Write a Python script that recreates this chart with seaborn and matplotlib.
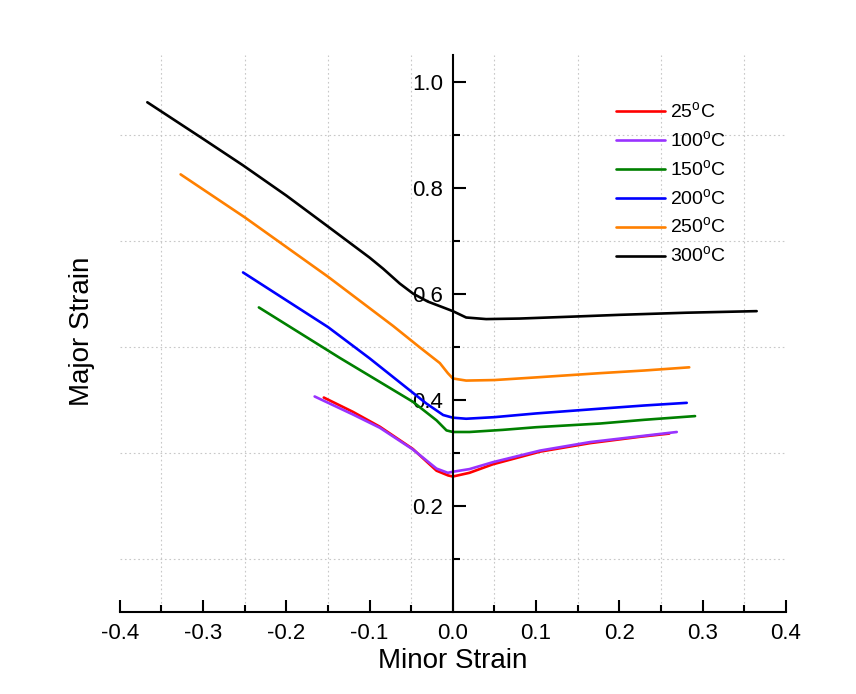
import numpy as np
import pandas as pd
import seaborn as sns
import matplotlib
matplotlib.use('Agg')
import matplotlib.pyplot as plt

# Courbes limites de formage (lecture sur la figure)
temps = ['25', '100', '150', '200', '250', '300']
colors = ['#FF0000', '#9933FF', '#008000', '#0000FF', '#FF8000', '#000000']

x_25 = [-0.155, -0.12, -0.0877, -0.048, -0.0196, -0.0056, 0.0, 0.02, 0.048, 0.105, 0.165, 0.225, 0.26]
y_25 = [0.404, 0.377, 0.349, 0.307, 0.266, 0.257, 0.255, 0.262, 0.278, 0.302, 0.318, 0.330, 0.336]

x_100 = [-0.166, -0.12, -0.0877, -0.048, -0.0196, -0.006, 0.0, 0.02, 0.048, 0.105, 0.165, 0.225, 0.269]
y_100 = [0.406, 0.372, 0.347, 0.306, 0.270, 0.262, 0.264, 0.269, 0.282, 0.304, 0.320, 0.331, 0.339]

x_150 = [-0.233, -0.136, -0.048, -0.0196, -0.0076, 0.0, 0.02, 0.06, 0.1, 0.177, 0.23, 0.291]
y_150 = [0.574, 0.479, 0.396, 0.361, 0.342, 0.339, 0.339, 0.343, 0.348, 0.355, 0.362, 0.369]

x_200 = [-0.252, -0.15, -0.1, -0.032, -0.0116, 0.0, 0.016, 0.05, 0.1, 0.177, 0.23, 0.281]
y_200 = [0.640, 0.537, 0.478, 0.393, 0.371, 0.366, 0.364, 0.367, 0.374, 0.383, 0.389, 0.394]

x_250 = [-0.327, -0.25, -0.15, -0.0717, -0.04, -0.0156, -0.006, 0.0, 0.016, 0.05, 0.1, 0.177, 0.23, 0.284]
y_250 = [0.825, 0.744, 0.632, 0.539, 0.499, 0.469, 0.450, 0.440, 0.436, 0.437, 0.442, 0.450, 0.455, 0.461]

x_300 = [-0.367, -0.30, -0.252, -0.20, -0.152, -0.10, -0.0837, -0.0637, -0.0477, -0.03, -0.0116,
         0.0, 0.016, 0.04, 0.08, 0.15, 0.2, 0.28, 0.365]
y_300 = [0.961, 0.892, 0.842, 0.785, 0.729, 0.668, 0.647, 0.619, 0.600, 0.585, 0.574,
         0.567, 0.555, 0.552, 0.553, 0.557, 0.560, 0.564, 0.567]

xs = [x_25, x_100, x_150, x_200, x_250, x_300]
ys = [y_25, y_100, y_150, y_200, y_250, y_300]

frames = []
for t, xv, yv in zip(temps, xs, ys):
    frames.append(pd.DataFrame({'minor': xv, 'major': yv, 'T': t}))
df = pd.concat(frames, ignore_index=True)

sns.set_style('white')
plt.rcParams['font.family'] = ['Liberation Sans', 'DejaVu Sans']
plt.rcParams['mathtext.fontset'] = 'custom'
plt.rcParams['mathtext.rm'] = 'Liberation Sans'
plt.rcParams['text.color'] = 'black'
plt.rcParams['axes.labelcolor'] = 'black'

fig = plt.figure(figsize=(8.56, 6.94), dpi=100)
ax = fig.add_axes([0.140, 0.1186, 0.778, 0.802])

sns.lineplot(data=df, x='minor', y='major', hue='T', hue_order=temps,
             palette=colors, sort=False, estimator=None, linewidth=1.9, ax=ax)

ax.set_xlim(-0.4, 0.4)
ax.set_ylim(0.0, 1.05)

ax.set_xticks([-0.4, -0.3, -0.2, -0.1, 0.0, 0.1, 0.2, 0.3, 0.4])
ax.set_xticks([-0.35, -0.25, -0.15, -0.05, 0.05, 0.15, 0.25, 0.35], minor=True)
ax.set_xticklabels(['-0.4', '-0.3', '-0.2', '-0.1', '0.0', '0.1', '0.2', '0.3', '0.4'])
ax.set_yticks([0.2, 0.4, 0.6, 0.8, 1.0])
ax.set_yticks([0.1, 0.3, 0.5, 0.7, 0.9], minor=True)
ax.set_yticklabels(['0.2', '0.4', '0.6', '0.8', '1.0'])

# axe Y au centre (x = 0)
ax.spines['left'].set_position(('data', 0))
ax.spines['top'].set_visible(False)
ax.spines['right'].set_visible(False)
for s in ['left', 'bottom']:
    ax.spines[s].set_linewidth(1.5)
    ax.spines[s].set_color('black')

ax.tick_params(which='both', bottom=True, left=True, top=False, right=False)
ax.tick_params(which='major', direction='in', length=9, width=1.5, labelsize=16,
               color='black', labelcolor='black')
ax.tick_params(which='minor', direction='in', length=5, width=1.5, color='black')
ax.tick_params(axis='x', which='major', pad=8)
ax.tick_params(axis='y', which='major', pad=7)

ax.grid(False)
ax.grid(which='minor', linestyle=(0, (1.5, 2.5)), color='#c8c8c8', linewidth=0.8)
ax.set_axisbelow(True)

ax.set_xlabel('Minor Strain', fontsize=20)
ax.set_ylabel('Major Strain', fontsize=20)
ax.xaxis.set_label_coords(0.5, -0.065)
ax.yaxis.set_label_coords(-0.038, 0.504)

handles, _ = ax.get_legend_handles_labels()
labels = [t + r'$^\mathregular{o}$C' for t in temps]
ax.legend(handles, labels, loc='upper left', bbox_to_anchor=(0.745, 0.917),
          frameon=False, fontsize=14, handlelength=2.5, handletextpad=0.3,
          labelspacing=0.42, borderpad=0, borderaxespad=0)

fig.savefig('out.png', dpi=100)
